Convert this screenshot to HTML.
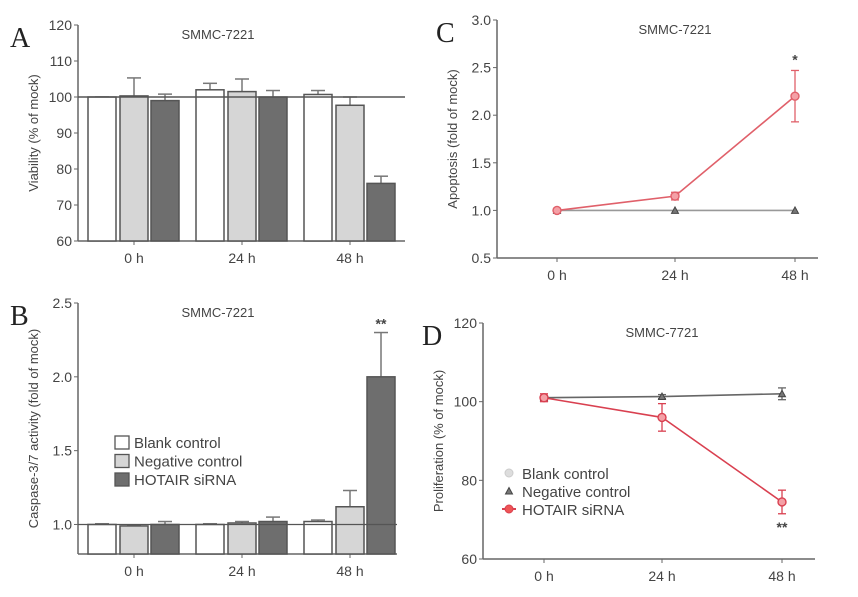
<!DOCTYPE html>
<html><head><meta charset="utf-8"><style>
body{margin:0;background:#fff;font-family:"Liberation Sans",sans-serif}
svg text{font-family:"Liberation Sans",sans-serif;fill:#444}
.pl{font-family:"Liberation Serif",serif;font-size:28px;fill:#222}
</style></head><body>
<svg id="s" width="858" height="592" xmlns="http://www.w3.org/2000/svg"></svg>
<script>
const groups=["0 h","24 h","48 h"];
const seriesNames=["Blank control","Negative control","HOTAIR siRNA"];
const aBlank=[100,102,100.7], aBlankErr=[0,1.8,1.1];
const aNeg=[100.3,101.5,97.7], aNegErr=[5,3.5,2.3];
const aSi=[99,100,76], aSiErr=[1.8,1.8,2];
const aTicks=[60,70,80,90,100,110,120];
const bBlank=[1.0,1.0,1.02], bBlankErr=[0.005,0.005,0.01];
const bNeg=[0.99,1.01,1.12], bNegErr=[0.005,0.01,0.11];
const bSi=[1.0,1.02,2.0], bSiErr=[0.02,0.03,0.3];
const bTicks=[1.0,1.5,2.0,2.5];
const cNeg=[1.0,1.0,1.0];
const cSi=[1.0,1.15,2.2], cSiErr=[0.02,0.04,0.27];
const cTicks=[0.5,1.0,1.5,2.0,2.5,3.0];
const dNeg=[101,101.3,102], dNegErr=[0.5,0.5,1.5];
const dSi=[101,96,74.5], dSiErr=[1,3.5,3];
const dTicks=[60,80,100,120];

const S=document.getElementById('s');const NS="http://www.w3.org/2000/svg";
function el(t,a,p){const e=document.createElementNS(NS,t);for(const k in a)e.setAttribute(k,a[k]);(p||S).appendChild(e);return e;}
function txt(x,y,s,a,p){const e=el('text',Object.assign({x:x,y:y},a),p);e.textContent=s;return e;}
function axes(o){
  const g=el('g',{});
  
  
  const sy=v=>o.y0+(v-o.vmin)/(o.vmax-o.vmin)*(o.y1-o.y0);
  el('line',{x1:o.x0,y1:o.y0,x2:o.x0,y2:o.y1,stroke:'#666','stroke-width':1.5},g);
  el('line',{x1:o.x0,y1:o.y0,x2:o.xe,y2:o.y0,stroke:'#666','stroke-width':1.5},g);
  o.ticks.forEach(t=>{const y=sy(t);el('line',{x1:o.x0-4,y1:y,x2:o.x0,y2:y,stroke:'#666'},g);
    const l=txt(o.x0-6,y+5,o.fmt(t),{'text-anchor':'end','font-size':14},g);
    });
  o.gx.forEach((x,i)=>{el('line',{x1:x,y1:o.y0,x2:x,y2:o.y0+4,stroke:'#666'},g);
    const l=txt(x,o.y0+22,groups[i],{'text-anchor':'middle','font-size':14},g);
    });
  const yt=txt(0,0,o.ytitle,{'font-size':13,'text-anchor':'middle',transform:`translate(${o.x0-40},${(o.y0+o.y1)/2}) rotate(-90)`},g);
  
  const tt=txt(o.tx,o.y1+14,o.title,{'font-size':13,'text-anchor':'middle'},g);
  
  const pl=txt(o.lx,o.y1+22,o.letter,{class:'pl'},g);
  
  return {g,sy};
}
const fills=['#fff','#d6d6d6','#6e6e6e'];
function bars(o,data,errs,offs,w){
  const {g,sy}=o.ax;
  data.forEach((arr,s)=>arr.forEach((v,i)=>{
    const x=o.gx[i]+offs[s],y=sy(v),yb=o.y0;
    el('line',{x1:x+w/2,y1:y,x2:x+w/2,y2:sy(v+errs[s][i]),stroke:'#777','stroke-width':1.5},g);
    el('line',{x1:x+w/2-7,y1:sy(v+errs[s][i]),x2:x+w/2+7,y2:sy(v+errs[s][i]),stroke:'#777','stroke-width':1.5},g);
    const r=el('rect',{x:x,y:Math.min(y,yb),width:w,height:Math.abs(yb-y),fill:fills[s],stroke:'#555','stroke-width':1.5},g);
    
  }));
}
// Panel A
let oA={name:'panel-a',x0:78,xe:405,y0:241,y1:25,vmin:60,vmax:120,ticks:aTicks,fmt:t=>t,gx:[134,242,350],ytitle:'Viability (% of mock)',title:'SMMC-7221',tx:218,lx:10,letter:'A'};
oA.ax=axes(oA);
bars(oA,[aBlank,aNeg,aSi],[aBlankErr,aNegErr,aSiErr],[-46,-14,17],28);
el('line',{x1:78,y1:oA.ax.sy(100),x2:405,y2:oA.ax.sy(100),stroke:'#555','stroke-width':1.5},oA.ax.g);
// Panel B
let oB={name:'panel-b',x0:78,xe:397,y0:554,y1:303,vmin:0.8,vmax:2.5,ticks:bTicks,fmt:t=>t.toFixed(1),gx:[134,242,350],ytitle:'Caspase-3/7 activity (fold of mock)',title:'SMMC-7221',tx:218,lx:10,letter:'B'};
oB.ax=axes(oB);
bars(oB,[bBlank,bNeg,bSi],[bBlankErr,bNegErr,bSiErr],[-46,-14,17],28);
el('line',{x1:78,y1:oB.ax.sy(1),x2:397,y2:oB.ax.sy(1),stroke:'#555','stroke-width':1.2},oB.ax.g);
txt(oB.gx[2]+31,oB.ax.sy(2.3)-4,'**',{'font-size':14,'text-anchor':'middle','font-weight':'bold'},oB.ax.g);
seriesNames.forEach((n,i)=>{const lg=el('g',{},oB.ax.g);
  
  el('rect',{x:115,y:436+i*18.5,width:14,height:13,fill:fills[i],stroke:'#555','stroke-width':1.3},lg);
  txt(134,448+i*18.5,n,{'font-size':15},lg);});
// Panel C
let oC={name:'panel-c',x0:497,xe:818,y0:258,y1:20,vmin:0.5,vmax:3.0,ticks:cTicks,fmt:t=>t.toFixed(1),gx:[557,675,795],ytitle:'Apoptosis (fold of mock)',title:'SMMC-7221',tx:675,lx:436,letter:'C'};
oC.ax=axes(oC);
function line(o,vals,errs,col,marker){
  const {g,sy}=o.ax;
  const p=el('polyline',{points:vals.map((v,i)=>o.gx[i]+','+sy(v)).join(' '),fill:'none',stroke:col,'stroke-width':1.6},g);
  
  vals.forEach((v,i)=>{const x=o.gx[i];
    if(errs){el('line',{x1:x,y1:sy(v-errs[i]),x2:x,y2:sy(v+errs[i]),stroke:col,'stroke-width':1.3},g);
      [v-errs[i],v+errs[i]].forEach(e=>el('line',{x1:x-4,y1:sy(e),x2:x+4,y2:sy(e),stroke:col,'stroke-width':1.3},g));}
    const m=marker==='tri'?el('path',{d:`M${x-3.5},${sy(v)+3} L${x+3.5},${sy(v)+3} L${x},${sy(v)-3.5}Z`,fill:'#777',stroke:'#444'},g)
      :el('circle',{cx:x,cy:sy(v),r:4,fill:'#f4a0a6',stroke:col,'stroke-width':1.4},g);
    });
}
line(oC,cNeg,null,'#999','tri');
line(oC,cSi,cSiErr,'#e0606a','c');
txt(795,oC.ax.sy(2.53),'*',{'font-size':14,'text-anchor':'middle','font-weight':'bold'},oC.ax.g);
// Panel D
let oD={name:'panel-d',x0:483,xe:815,y0:559,y1:323,vmin:60,vmax:120,ticks:dTicks,fmt:t=>t,gx:[544,662,782],ytitle:'Proliferation (% of mock)',title:'SMMC-7721',tx:662,lx:422,letter:'D'};
oD.ax=axes(oD);
line(oD,dNeg,dNegErr,'#666','tri');
line(oD,dSi,dSiErr,'#d94050','c');
txt(782,oD.ax.sy(dSi[2]-dSiErr[2])+18,'**',{'font-size':14,'text-anchor':'middle','font-weight':'bold'},oD.ax.g);
const dl=[['#ddd','#ccc'],['#666','#555'],['#e55','#d94050']];
seriesNames.forEach((n,i)=>{const lg=el('g',{},oD.ax.g);
  
  if(i==2)el('line',{x1:502,y1:509,x2:516,y2:509,stroke:'#d94050','stroke-width':2},lg);
  if(i==1)el('path',{d:'M505.5,494 L512.5,494 L509,487.5Z',fill:'#777',stroke:'#444'},lg);
  else el('circle',{cx:509,cy:473+i*18,r:4,fill:dl[i][0],stroke:dl[i][1]},lg);
  txt(522,479+i*18,n,{'font-size':15},lg);});
</script>
</body></html>
